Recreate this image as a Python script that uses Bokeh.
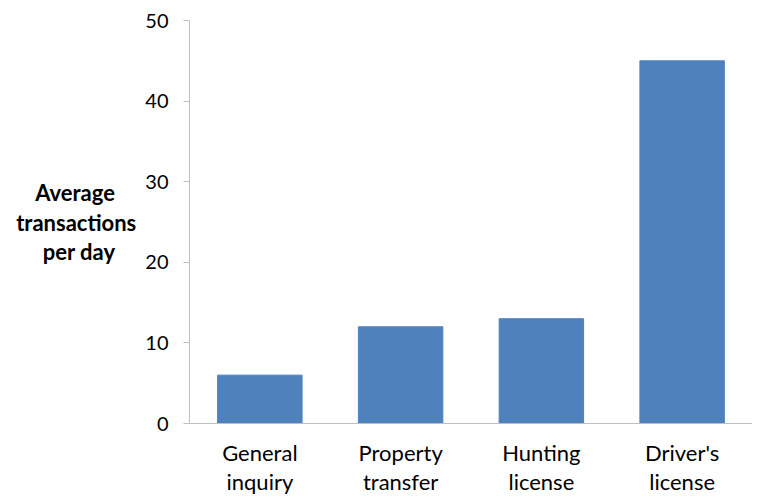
from bokeh.plotting import figure
from bokeh.models import ColumnDataSource, Range1d, FactorRange, FixedTicker
from bokeh.embed import file_html
from bokeh.resources import INLINE

categories = ["General\ninquiry", "Property\ntransfer", "Hunting\nlicense", "Driver's\nlicense"]
transactions = [6, 12, 13, 45]
y_ticks = [0, 10, 20, 30, 40, 50]
y_title_lines = ["Average", "transactions", "per day"]

FONT = "Lato"
AXIS_GREY = "#bfbfbf"
NBSP = "\u00a0"

cds = ColumnDataSource(dict(cat=categories, val=transactions))

p = figure(x_range=FactorRange(*categories), y_range=Range1d(0, 50),
           frame_width=563, frame_height=403,
           min_border_left=189, min_border_right=0, min_border_top=20, min_border_bottom=65,
           output_backend="svg", toolbar_location=None)

p.vbar(x="cat", top="val", width=0.6, color="#4f81bd", source=cds)

p.outline_line_color = None
p.xgrid.grid_line_color = None
p.ygrid.grid_line_color = None

p.yaxis.ticker = FixedTicker(ticks=y_ticks)
p.yaxis.axis_line_color = AXIS_GREY
p.yaxis.major_tick_line_color = AXIS_GREY
p.yaxis.major_tick_out = 6
p.yaxis.major_tick_in = 0
p.yaxis.minor_tick_line_color = None
p.yaxis.major_label_text_font = FONT
p.yaxis.major_label_text_font_size = "20px"
p.yaxis.major_label_text_color = "#000000"
p.yaxis.major_label_standoff = 15

# axis label lines are right-justified; pad the short ones so they look centred
p.yaxis.axis_label = "\n".join([y_title_lines[0] + NBSP * 4, y_title_lines[1], y_title_lines[2] + NBSP * 4])
p.yaxis.axis_label_orientation = "horizontal"
p.yaxis.axis_label_text_font = FONT
p.yaxis.axis_label_text_font_style = "bold"
p.yaxis.axis_label_text_font_size = "22px"
p.yaxis.axis_label_text_color = "#000000"
p.yaxis.axis_label_text_line_height = 1.1
p.yaxis.axis_label_standoff = 6

p.xaxis.axis_line_color = AXIS_GREY
p.xaxis.major_tick_line_color = None
p.xaxis.minor_tick_line_color = None
p.xaxis.major_label_text_font = FONT
p.xaxis.major_label_text_font_size = "22px"
p.xaxis.major_label_text_color = "#000000"
p.xaxis.major_label_text_line_height = 1.1
p.xaxis.major_label_standoff = 9

open("out.html", "w").write(file_html(p, INLINE))
